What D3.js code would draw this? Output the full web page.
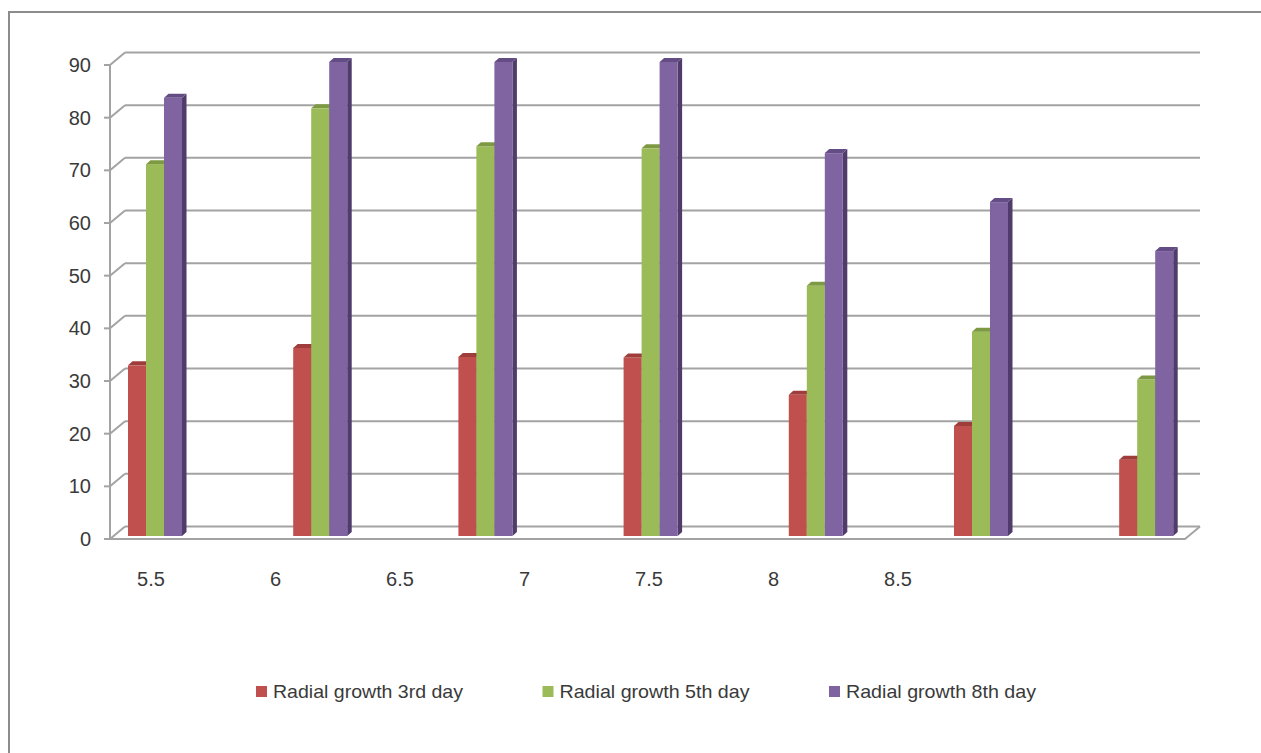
<!DOCTYPE html>
<html>
<head>
<meta charset="utf-8">
<script src="https://cdn.jsdelivr.net/npm/d3@7"></script>
<style>
  html, body { margin: 0; padding: 0; background: #fff; }
  svg { display: block; }
  text { font-family: "Liberation Sans", Arial, sans-serif; fill: #3a3a3a; }
</style>
</head>
<body>
<svg id="chart" width="1261" height="753"></svg>
<script>
// ---- data ----
const categories = ["g1", "g2", "g3", "g4", "g5", "g6", "g7"];
const seriesNames = ["Radial growth 3rd day", "Radial growth 5th day", "Radial growth 8th day"];
const day3 = [32.4, 35.7, 34.0, 33.9, 26.8, 20.9, 14.5];
const day5 = [70.6, 81.2, 74.0, 73.6, 47.5, 38.8, 29.7];
const day8 = [83.2, 90.0, 90.0, 90.0, 72.7, 63.4, 54.1];
const yTicks = [0, 10, 20, 30, 40, 50, 60, 70, 80, 90];
const xTickLabels = ["5.5", "6", "6.5", "7", "7.5", "8", "8.5"];
const xTickValues = [5.5, 6, 6.5, 7, 7.5, 8, 8.5];

const seriesValues = [day3, day5, day8];
const colors = [
  { front: "#C0504D", top: "#9f3d3a", side: "#8a302d" },
  { front: "#9BBB59", top: "#7d9a43", side: "#6d8839" },
  { front: "#8064A2", top: "#644d85", side: "#4f3c6b" }
];

const svg = d3.select("#chart");

// ---- 3D frame geometry ----
const frontLeft = 110, frontRight = 1185;
const depthDX = 15, depthDY = -12.5;
const y = d3.scaleLinear().domain([0, 90]).range([539, 65]);

// outer border
svg.append("path")
  .attr("d", "M9,760 L9,12 L1270,12")
  .attr("fill", "none").attr("stroke", "#8c8c8c").attr("stroke-width", 2);

const grid = svg.append("g").attr("stroke", "#a3a3a3").attr("stroke-width", 2).attr("fill", "none");

// back wall gridlines
grid.selectAll("line.back").data(yTicks).join("line")
  .attr("class", "back")
  .attr("x1", frontLeft + depthDX).attr("x2", frontRight + depthDX)
  .attr("y1", d => y(d) + depthDY).attr("y2", d => y(d) + depthDY);

// side wall diagonals
grid.selectAll("line.side").data(yTicks).join("line")
  .attr("class", "side")
  .attr("x1", frontLeft).attr("x2", frontLeft + depthDX)
  .attr("y1", d => y(d)).attr("y2", d => y(d) + depthDY);

// floor front & right edge
grid.append("path")
  .attr("d", `M${frontLeft},${y(0)} L${frontRight},${y(0)} L${frontRight + depthDX},${y(0) + depthDY}`);

// front vertical axis
grid.append("line")
  .attr("x1", frontLeft).attr("x2", frontLeft)
  .attr("y1", y(0)).attr("y2", y(90));

// ticks
grid.selectAll("line.tick").data(yTicks).join("line")
  .attr("class", "tick")
  .attr("x1", frontLeft - 6).attr("x2", frontLeft)
  .attr("y1", d => y(d)).attr("y2", d => y(d));

// y labels
svg.append("g").selectAll("text").data(yTicks).join("text")
  .attr("x", 91).attr("y", d => y(d))
  .attr("text-anchor", "end").attr("dominant-baseline", "central")
  .attr("font-size", 20)
  .text(d => d);

// ---- bars ----
const barShift = 3; // depth shift of bar front faces above the floor front edge
const x0 = d3.scaleBand().domain(categories)
  .range([128, 1173.2]).paddingInner(0.673).paddingOuter(0);
const x1 = d3.scaleBand().domain(d3.range(seriesNames.length)).range([0, x0.bandwidth()]);
const topDX = 4.5, topDY = -4;

const bars = [];
categories.forEach((c, i) => {
  seriesValues.forEach((vals, s) => {
    bars.push({ c, s, v: vals[i] });
  });
});

const barG = svg.append("g");
const bg = barG.selectAll("g.bar").data(bars).join("g").attr("class", "bar");

bg.each(function(d) {
  const g = d3.select(this);
  const xl = x0(d.c) + x1(d.s);
  const w = x1.bandwidth();
  const yb = y(0) - barShift;
  const yt = y(d.v) - barShift;
  // side face
  g.append("path")
    .attr("d", `M${xl + w},${yt} L${xl + w + topDX},${yt + topDY} L${xl + w + topDX},${yb + topDY} L${xl + w},${yb} Z`)
    .attr("fill", colors[d.s].side);
  // front face
  g.append("rect")
    .attr("x", xl).attr("y", yt).attr("width", w).attr("height", yb - yt)
    .attr("fill", colors[d.s].front);
  // top face
  g.append("path")
    .attr("d", `M${xl},${yt} L${xl + topDX},${yt + topDY} L${xl + w + topDX},${yt + topDY} L${xl + w},${yt} Z`)
    .attr("fill", colors[d.s].top);
});

// ---- x tick labels ----
const xl = d3.scaleLinear().domain([5.5, 8.5]).range([151, 898]);
svg.append("g").selectAll("text").data(xTickValues).join("text")
  .attr("x", d => xl(d)).attr("y", 586)
  .attr("text-anchor", "middle")
  .attr("font-size", 20)
  .text((d, i) => xTickLabels[i]);

// ---- legend ----
const legendX = d3.scalePoint().domain(d3.range(seriesNames.length)).range([256, 829]);
const lg = svg.append("g").selectAll("g").data(seriesNames).join("g")
  .attr("transform", (d, i) => `translate(${legendX(i)},686)`);
lg.append("rect").attr("width", 11).attr("height", 11)
  .attr("fill", (d, i) => colors[i].front);
lg.append("text")
  .attr("x", 17).attr("y", 12)
  .attr("font-size", 19)
  .attr("textLength", 190).attr("lengthAdjust", "spacingAndGlyphs")
  .text(d => d);
</script>
</body>
</html>
